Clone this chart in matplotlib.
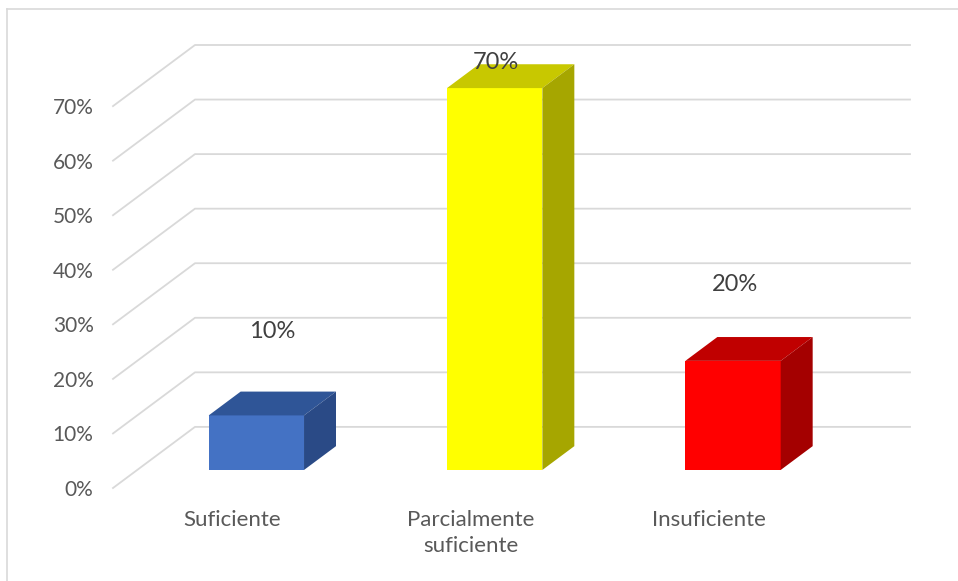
"""
Grafico de barras 3D estilo Excel: nivel de logro.
"""
import matplotlib.pyplot as plt
from matplotlib.patches import Polygon
from matplotlib.lines import Line2D

# Datos
categorias = ['Suficiente', 'Parcialmente\nsuficiente', 'Insuficiente']
porcentajes = [10, 70, 20]
ticks_y = [0, 10, 20, 30, 40, 50, 60, 70]
etiquetas_y = [f'{t}%' for t in ticks_y]

# Colores de cada cara (frente, arriba, lado)
colores_frente = ['#4472C4', '#FFFF00', '#FF0000']
colores_arriba = ['#2F5597', '#C8C800', '#C00000']
colores_lado = ['#2A4A86', '#A6A600', '#A40000']

# Posicion de la etiqueta de datos respecto a la cara frontal (pixeles)
desplaz_etiquetas = [(16, 84), (1, 26), (2, 76)]

# Geometria de la proyeccion oblicua
W, H = 958, 581
DX = 0.344     # profundidad en unidades de categoria
DY = 11.2      # profundidad en unidades de porcentaje
ANCHO = 0.40
F0, F1 = 0.295, 0.685

plt.rcParams['font.family'] = ['Lato', 'DejaVu Sans']

fig = plt.figure(figsize=(W / 100, H / 100), dpi=100)
ax = fig.add_axes([113 / W, (H - 488) / H, (910 - 113) / W, (488 - 45) / H])
ax.set_xlim(0, len(categorias) + DX)
ax.set_ylim(0, max(ticks_y) + DY)

# Rejilla: pared izquierda (diagonal) + pared del fondo
for t in ticks_y:
    ax.plot([0, DX, len(categorias) + DX], [t, t + DY, t + DY],
            color='#D9D9D9', lw=1.3, zorder=1, clip_on=False)

# Barras 3D
for i, v in enumerate(porcentajes):
    x0 = i + 0.5 - ANCHO / 2
    x1 = x0 + ANCHO
    a0, b0 = F0 * DX, F0 * DY
    a1, b1 = F1 * DX, F1 * DY
    frente = [(x0 + a0, b0), (x1 + a0, b0), (x1 + a0, v + b0), (x0 + a0, v + b0)]
    arriba = [(x0 + a0, v + b0), (x1 + a0, v + b0), (x1 + a1, v + b1), (x0 + a1, v + b1)]
    lado = [(x1 + a0, b0), (x1 + a1, b1), (x1 + a1, v + b1), (x1 + a0, v + b0)]
    ax.add_patch(Polygon(frente, closed=True, facecolor=colores_frente[i], edgecolor='none', zorder=3))
    ax.add_patch(Polygon(arriba, closed=True, facecolor=colores_arriba[i], edgecolor='none', zorder=3))
    ax.add_patch(Polygon(lado, closed=True, facecolor=colores_lado[i], edgecolor='none', zorder=3))
    ax.annotate(f'{v}%', xy=(i + 0.5 + a0, v + b0), xytext=desplaz_etiquetas[i],
                textcoords='offset pixels', ha='center', va='center',
                fontsize=17, color='#404040', zorder=4)

ax.set_yticks(ticks_y, etiquetas_y)
ax.set_xticks([i + 0.5 for i in range(len(categorias))], categorias)
ax.tick_params(axis='y', length=0, pad=14, labelsize=15, labelcolor='#595959')
ax.tick_params(axis='x', length=0, pad=16, labelsize=16, labelcolor='#595959')
for lbl in ax.get_xticklabels():
    lbl.set_linespacing(1.37)
for s in ax.spines.values():
    s.set_visible(False)

# Borde del area del grafico
fig.add_artist(Line2D([7 / W, 7 / W], [0, 1 - 9 / H], color='#D9D9D9', lw=1.2))
fig.add_artist(Line2D([7 / W, 1], [1 - 9 / H, 1 - 9 / H], color='#D9D9D9', lw=1.2))

fig.savefig('out.png', dpi=100)
